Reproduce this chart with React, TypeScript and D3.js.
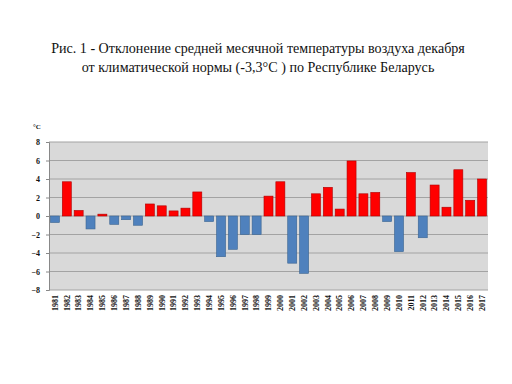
import { useEffect, useRef } from "react";
import * as d3 from "d3";

const years = d3.range(1981, 2018).map(String);
const deviations = [
  -0.7, 3.7, 0.6, -1.4, 0.2, -0.9, -0.4, -1.0, 1.3, 1.1,
  0.55, 0.85, 2.6, -0.6, -4.4, -3.6, -2.0, -2.0, 2.15, 3.7,
  -5.1, -6.2, 2.4, 3.1, 0.75, 5.95, 2.4, 2.55, -0.6, -3.85,
  4.7, -2.35, 3.35, 0.95, 5.0, 1.7, 4.0,
];
const yTicks = [-8, -6, -4, -2, 0, 2, 4, 6, 8];
const titleLines = [
  "Рис. 1 - Отклонение средней месячной температуры воздуха декабря",
  "от климатической нормы (-3,3°С ) по Республике Беларусь",
];

const serif = "Liberation Serif, Times New Roman, DejaVu Serif, serif";

export default function App() {
  const ref = useRef<SVGSVGElement>(null);

  useEffect(() => {
    const svg = d3.select(ref.current);
    svg.selectAll("*").remove();

    const left = 49, right = 488, top = 142, bottom = 290;

    const x = d3.scaleBand().domain(years).range([left, right]).paddingInner(0.24).paddingOuter(0.12);
    const y = d3.scaleLinear().domain([-8, 8]).range([bottom, top]);

    // title
    svg.append("g")
      .selectAll("text")
      .data(titleLines)
      .join("text")
      .attr("x", 258)
      .attr("y", (d, i) => 53 + i * 19)
      .attr("text-anchor", "middle")
      .attr("font-family", serif)
      .attr("font-size", 14.1)
      .attr("fill", "#111")
      .text((d) => d);

    // plot background
    svg.append("rect")
      .attr("x", left).attr("y", top)
      .attr("width", right - left).attr("height", bottom - top)
      .attr("fill", "#d9d9d9");

    // gridlines
    svg.append("g")
      .selectAll("line")
      .data(yTicks)
      .join("line")
      .attr("x1", left).attr("x2", right)
      .attr("y1", (d) => y(d)).attr("y2", (d) => y(d))
      .attr("stroke", "#a3a3a3")
      .attr("stroke-width", 1);

    // y axis
    const yAxis = svg.append("g")
      .attr("transform", `translate(${left},0)`)
      .call(d3.axisLeft(y).tickValues(yTicks).tickSize(3).tickPadding(6));
    yAxis.attr("font-family", serif).attr("font-size", 8).attr("font-weight", "bold");
    yAxis.select(".domain").attr("stroke", "#888");
    yAxis.selectAll(".tick line").attr("stroke", "#888");
    yAxis.selectAll("text").attr("fill", "#111");

    svg.append("text")
      .attr("x", 33).attr("y", 129)
      .attr("font-family", serif)
      .attr("font-size", 7)
      .attr("font-weight", "bold")
      .attr("fill", "#111")
      .text("°С");

    // bars
    svg.append("g")
      .selectAll("rect")
      .data(deviations)
      .join("rect")
      .attr("x", (d, i) => x(years[i])!)
      .attr("width", x.bandwidth())
      .attr("y", (d) => y(Math.max(0, d)))
      .attr("height", (d) => Math.abs(y(d) - y(0)))
      .attr("fill", (d) => (d >= 0 ? "#ff0000" : "#4f81bd"))
      .attr("stroke", (d) => (d >= 0 ? "#b00000" : "#3a6491"))
      .attr("stroke-width", 0.6);

    // x axis labels
    svg.append("g")
      .selectAll("text")
      .data(years)
      .join("text")
      .attr("transform", (d) => `translate(${x(d)! + x.bandwidth() / 2 + 2.8},${bottom + 5}) rotate(-90)`)
      .attr("text-anchor", "end")
      .attr("font-family", serif)
      .attr("font-size", 8)
      .attr("font-weight", "bold")
      .attr("fill", "#111")
      .text((d) => d);
  }, []);

  return (
    <svg
      ref={ref}
      width={512}
      height={384}
      style={{ position: "absolute", left: 0, top: 0, display: "block" }}
    />
  );
}
